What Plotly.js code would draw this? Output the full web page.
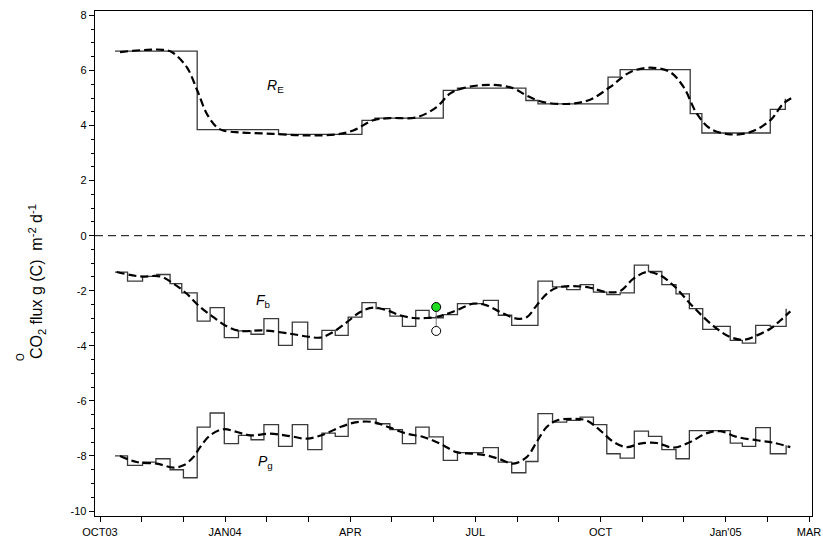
<!DOCTYPE html>
<html><head><meta charset="utf-8">
<script src="https://cdn.plot.ly/plotly-3.0.1.min.js"></script>
<style>html,body{margin:0;padding:0;background:#fff}#chart{width:823px;height:539px}</style>
</head><body><div id="chart"></div>
<script>
// x in months since 1 Oct 2003
const monthTicks = [0,3,6,9,12,15,17];
const monthLabels = ["OCT03","JAN04","APR","JUL","OCT","Jan'05","MAR"];
const yTicks = [-10,-8,-6,-4,-2,0,2,4,6,8];
const yLabels = ["-10","-8","-6","-4","-2","0","2","4","6","8"];

// R_E step series
const reEdges = [0.36,2.33,4.28,6.28,6.59,8.23,8.57,10.21,10.50,12.18,12.47,14.15,14.43,16.07,16.43];
const reVals  = [6.70,3.85,3.68,4.19,4.27,5.28,5.36,4.91,4.79,5.76,6.03,4.43,3.73,4.59];
const reEnd = 4.97;
// R_E smoothed
const reSmX = [0.48,1.13,1.51,1.72,2.08,2.33,2.56,2.80,2.95,3.36,4.15,4.96,5.68,6.07,6.55,6.95,7.59,8.07,8.39,8.71,9.35,9.90,10.23,10.63,11.27,11.75,12.23,12.71,13.19,13.67,13.99,14.31,14.63,15.11,15.59,16.07,16.38,16.62];
const reSmY = [6.67,6.75,6.75,6.67,6.12,5.28,4.43,3.94,3.82,3.75,3.70,3.64,3.68,3.82,4.19,4.27,4.30,4.67,5.16,5.36,5.48,5.36,5.09,4.85,4.79,4.94,5.40,5.94,6.10,5.94,5.40,4.43,3.89,3.68,3.76,4.19,4.79,5.03];

// F_b step series
const fbEdges = [0.36,0.66,1.02,1.36,1.68,1.96,2.33,2.64,2.98,3.32,3.62,3.93,4.28,4.61,4.98,5.32,5.64,5.95,6.28,6.62,6.95,7.25,7.57,7.89,8.23,8.57,9.19,9.55,9.87,10.50,10.85,11.19,11.51,11.83,12.15,12.47,12.81,13.15,13.47,13.81,14.13,14.45,14.77,15.11,15.40,15.72,16.07,16.45];
const fbVals  = [-1.32,-1.65,-1.48,-1.41,-1.74,-2.08,-3.10,-2.61,-3.70,-3.46,-3.58,-3.01,-3.98,-3.14,-4.13,-3.44,-3.62,-2.96,-2.43,-2.65,-2.92,-3.29,-2.71,-2.98,-2.87,-2.47,-2.35,-2.89,-3.26,-1.65,-1.86,-1.96,-1.78,-2.05,-2.14,-2.08,-1.07,-1.30,-1.78,-2.11,-2.65,-3.40,-3.29,-3.80,-3.90,-3.26,-3.29];
const fbEnd = -2.65;
// F_b smoothed
const fbSmX = [0.40,0.96,1.44,1.76,2.08,2.40,2.72,3.04,3.36,3.92,4.56,4.96,5.28,5.59,5.92,6.24,6.55,6.88,7.19,7.51,7.83,8.15,8.55,8.95,9.27,9.59,9.99,10.23,10.47,10.71,10.95,11.35,11.75,12.15,12.47,12.79,13.11,13.43,13.75,14.15,14.47,14.79,15.11,15.43,15.75,16.07,16.31,16.55];
const fbSmY = [-1.32,-1.48,-1.48,-1.74,-2.11,-2.59,-2.96,-3.29,-3.46,-3.44,-3.56,-3.66,-3.70,-3.50,-3.14,-2.77,-2.61,-2.71,-2.89,-2.99,-2.99,-2.92,-2.71,-2.47,-2.53,-2.77,-3.01,-2.96,-2.53,-2.11,-1.89,-1.83,-1.89,-2.05,-2.01,-1.56,-1.32,-1.44,-1.81,-2.47,-2.96,-3.38,-3.68,-3.78,-3.62,-3.38,-3.08,-2.75];
// F_b comparison points
const fbPtX = [8.06, 8.06];
const fbPtY = [-2.59, -3.46];

// P_g step series
const pgEdges = [0.36,0.66,1.02,1.34,1.68,2.00,2.33,2.64,2.98,3.32,3.62,3.93,4.28,4.61,4.98,5.32,5.64,5.95,6.62,6.95,7.25,7.57,7.89,8.23,8.57,9.19,9.55,9.87,10.21,10.50,10.85,11.19,11.51,11.83,12.15,12.47,12.81,13.15,13.47,13.81,14.13,15.11,15.40,15.72,16.07,16.45];
const pgVals  = [-8.00,-8.34,-8.22,-8.10,-8.50,-8.79,-6.95,-6.44,-7.55,-7.25,-7.41,-6.86,-7.65,-6.86,-7.77,-7.17,-7.29,-6.65,-6.83,-7.04,-7.55,-6.95,-7.31,-8.16,-7.88,-7.70,-8.22,-8.61,-8.20,-6.46,-6.77,-6.71,-6.59,-6.86,-7.92,-8.08,-7.10,-7.29,-7.77,-8.10,-7.08,-7.53,-7.65,-6.97,-7.92];
const pgEnd = -7.61;
// P_g smoothed
const pgSmX = [0.48,0.88,1.36,1.76,2.00,2.24,2.40,2.64,2.96,3.28,3.60,4.08,4.56,4.96,5.36,5.76,6.16,6.55,6.95,7.35,7.75,8.15,8.55,8.95,9.27,9.59,9.91,10.23,10.47,10.71,10.95,11.35,11.67,11.99,12.31,12.63,12.95,13.35,13.75,14.15,14.55,14.87,15.27,15.75,16.15,16.55];
const pgSmY = [-8.00,-8.22,-8.28,-8.42,-8.34,-8.04,-7.68,-7.25,-7.03,-7.13,-7.25,-7.19,-7.28,-7.37,-7.22,-6.95,-6.77,-6.77,-6.97,-7.19,-7.31,-7.55,-7.86,-7.92,-7.98,-8.12,-8.28,-8.04,-7.49,-6.95,-6.71,-6.65,-6.71,-7.07,-7.49,-7.68,-7.55,-7.53,-7.70,-7.49,-7.17,-7.10,-7.31,-7.43,-7.52,-7.68];

function stepTrace(edges, vals, endVal){
  const x = edges.slice();
  const y = vals.slice();
  y.push(vals[vals.length-1]);
  x.push(edges[edges.length-1]);
  y.push(endVal);
  return {x:x, y:y, mode:'lines', line:{shape:'hv', color:'#3a3a3a', width:1.3}, hoverinfo:'skip', showlegend:false};
}
function smoothTrace(x, y){
  return {x:x, y:y, mode:'lines', line:{shape:'spline', smoothing:1, color:'#000', width:2.2, dash:'8px,4px'}, hoverinfo:'skip', showlegend:false};
}

const traces = [
  stepTrace(reEdges, reVals, reEnd), smoothTrace(reSmX, reSmY),
  stepTrace(fbEdges, fbVals, fbEnd), smoothTrace(fbSmX, fbSmY),
  stepTrace(pgEdges, pgVals, pgEnd), smoothTrace(pgSmX, pgSmY),
  {x:fbPtX, y:fbPtY, mode:'lines+markers', line:{color:'#777', width:1},
   marker:{size:9, color:['#22dd22','#ffffff'], line:{color:'#000', width:1}}, showlegend:false, hoverinfo:'skip'}
];

const font = {family:'Arial, "Liberation Sans", sans-serif', color:'#000'};
const layout = {
  width:823, height:539,
  margin:{l:95, r:11, t:11, b:23},
  paper_bgcolor:'#fff', plot_bgcolor:'#fff',
  showlegend:false,
  font:Object.assign({size:11}, font),
  xaxis:{range:[-0.12,17.07], tickmode:'array', tickvals:monthTicks, ticktext:monthLabels,
    showgrid:false, zeroline:false, showline:true, mirror:true, linecolor:'#000', linewidth:1.3,
    ticks:'outside', ticklen:5, tickcolor:'#000', tickfont:Object.assign({size:11}, font),
    minor:{tick0:0, dtick:1, ticks:'outside', ticklen:5, tickcolor:'#000', showgrid:false}},
  yaxis:{range:[-10.18,8.16], tickmode:'array', tickvals:yTicks, ticktext:yLabels,
    showgrid:false, zeroline:false, showline:true, mirror:true, linecolor:'#000', linewidth:1.3,
    ticks:'outside', ticklen:5, tickcolor:'#000', tickfont:Object.assign({size:11}, font),
    minor:{tick0:0, dtick:0.5, ticks:'outside', ticklen:3, tickcolor:'#000', showgrid:false}},
  shapes:[{type:'line', xref:'paper', x0:0, x1:1, yref:'y', y0:0, y1:0, line:{color:'#000', width:1, dash:'8px,5px'}}],
  annotations:[
    {text:'<i>R</i><sub>E</sub>', x:4.2, y:5.42, xref:'x', yref:'y', showarrow:false, font:Object.assign({size:14}, font)},
    {text:'<i>F</i><sub>b</sub>', x:3.93, y:-2.38, xref:'x', yref:'y', showarrow:false, font:Object.assign({size:14}, font)},
    {text:'<i>P</i><sub>g</sub>', x:3.96, y:-8.23, xref:'x', yref:'y', showarrow:false, font:Object.assign({size:14}, font)},
    {text:'CO<sub>2</sub> flux g (C)  m<sup>-2</sup> d<sup>-1</sup>', xref:'paper', yref:'paper', x:-0.081, y:0.465,
      xanchor:'center', yanchor:'middle', textangle:-90, showarrow:false, font:Object.assign({size:16}, font)},
    {text:'O', xref:'paper', yref:'paper', x:-0.103, y:0.315, xanchor:'center', yanchor:'middle', textangle:-90, showarrow:false, font:Object.assign({size:10}, font)}
  ]
};
Plotly.newPlot('chart', traces, layout, {displayModeBar:false, staticPlot:true});
</script></body></html>
